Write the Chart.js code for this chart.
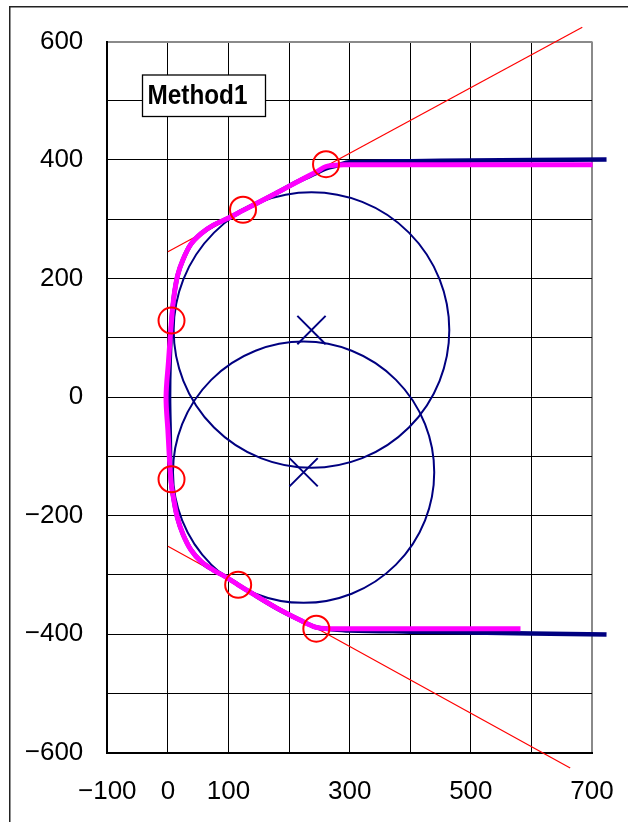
<!DOCTYPE html>
<html>
<head>
<meta charset="utf-8">
<title>Method1</title>
<script src="https://cdn.jsdelivr.net/npm/chart.js@4.4.1/dist/chart.umd.min.js"></script>
<style>
  html, body { margin: 0; padding: 0; background: #fff; }
  canvas { display: block; }
</style>
</head>
<body>
<canvas id="chart" width="628" height="822"></canvas>
<script>
// Tick labels shown on each axis (grid lines every 100)
const xTickLabels = [-100, 0, 100, 300, 500, 700];
const yTickLabels = [600, 400, 200, 0, -200, -400, -600];

// Planned path (magenta)
const pathX = [701, 600, 500, 400, 320, 290, 275, 261, 245, 217, 173, 124, 100, 75, 55, 38, 25, 16, 10, 6, 1, -3, 0, 5, 10, 16, 25, 38, 55, 75, 96, 116, 135, 179, 217, 245, 262, 300, 400, 500, 582];
const pathY = [392, 392, 392, 392, 392, 392, 391, 389, 380, 365, 341, 315, 302, 290, 276, 258, 232, 205, 170, 129, 60, 0, -56, -140, -175, -205, -232, -258, -278, -292, -304, -317, -329, -356, -376, -389, -391, -391, -391, -391, -391];

// Reference boundary (navy)
const refX = [724, 600, 500, 400, 300, 280, 261, 245, 217, 173, 124, 100, 75, 55, 38, 25, 16, 10, 6, 3, 2, 3, 5, 10, 16, 25, 38, 55, 75, 96, 116, 135, 179, 217, 245, 262, 300, 400, 500, 600, 724];
const refY = [401, 400, 399, 398, 396, 391, 386, 378, 365, 341, 315, 302, 290, 276, 258, 232, 205, 170, 129, 60, 0, -56, -140, -175, -205, -232, -258, -278, -292, -304, -317, -329, -356, -376, -389, -391, -394, -396, -397.5, -399, -401];

// Tangent lines
const upperTangentX = [0, 684];
const upperTangentY = [245, 624];
const lowerTangentX = [0, 664];
const lowerTangentY = [-252, -626];

// Contact points (red circles)
const contactX = [6, 124, 261, 6, 116, 245];
const contactY = [129, 316, 393, -139, -317, -391];

// Circles: centres (marked with ×) and radii
const centerX = [237, 224];
const centerY = [113, -127];
const circleRadius = [230, 218];

const NAVY = '#000080';
const MAGENTA = '#ff00ff';
const RED = '#ff0000';

const pts = (xs, ys) => xs.map((x, i) => ({ x: x, y: ys[i] }));
const fmt = v => (v < 0 ? '\u2212' + Math.abs(v) : String(v));

// Radius in pixels of a circle given in data units
function circlePixelRadius(c) {
  const sx = c.chart.scales.x, sy = c.chart.scales.y;
  const r = circleRadius[c.dataIndex];
  if (!sx || !sy || r === undefined) return 0;
  const rx = Math.abs(sx.getPixelForValue(r) - sx.getPixelForValue(0));
  const ry = Math.abs(sy.getPixelForValue(r) - sy.getPixelForValue(0));
  return (rx + ry) / 2;
}

// Outer frame and the "Method1" text box
const decorations = {
  id: 'decorations',
  beforeDraw(chart) {
    const ctx = chart.ctx;
    ctx.save();
    ctx.fillStyle = '#fff';
    ctx.fillRect(0, 0, chart.width, chart.height);
    ctx.strokeStyle = '#222';
    ctx.lineWidth = 1.5;
    ctx.strokeRect(9.75, 6.75, 1000, 1000);
    ctx.restore();
  },
  beforeDatasetsDraw(chart) {
    const ctx = chart.ctx;
    ctx.save();
    ctx.fillStyle = '#fff';
    ctx.fillRect(142.5, 75, 123, 41.5);
    ctx.strokeStyle = '#000';
    ctx.lineWidth = 1.3;
    ctx.strokeRect(142.5, 75, 123, 41.5);
    ctx.fillStyle = '#000';
    ctx.font = 'bold 27px "Liberation Sans", Arial, sans-serif';
    ctx.textBaseline = 'alphabetic';
    ctx.textAlign = 'left';
    ctx.fillText('Method1', 147.5, 104.3, 100);
    ctx.restore();
  }
};

const lineSet = (xs, ys, color, width, tension) => ({
  data: pts(xs, ys),
  showLine: true,
  borderColor: color,
  borderWidth: width,
  borderCapStyle: 'butt',
  borderJoinStyle: 'round',
  tension: tension,
  pointRadius: 0,
  clip: false
});

new Chart(document.getElementById('chart'), {
  type: 'scatter',
  data: {
    datasets: [
      {
        data: pts(contactX, contactY),
        showLine: false,
        pointStyle: 'circle',
        pointRadius: 13,
        pointBorderWidth: 2,
        pointBorderColor: RED,
        pointBackgroundColor: 'rgba(0,0,0,0)',
        clip: false
      },
      lineSet(pathX, pathY, MAGENTA, 5, 0.35),
      lineSet(refX, refY, NAVY, 4.5, 0.35),
      lineSet(upperTangentX, upperTangentY, RED, 1.2, 0),
      lineSet(lowerTangentX, lowerTangentY, RED, 1.2, 0),
      {
        data: pts(centerX, centerY),
        showLine: false,
        pointStyle: 'circle',
        pointRadius: circlePixelRadius,
        pointBorderWidth: 2,
        pointBorderColor: NAVY,
        pointBackgroundColor: 'rgba(0,0,0,0)',
        clip: false
      },
      {
        data: pts(centerX, centerY),
        showLine: false,
        pointStyle: 'crossRot',
        pointRadius: 20,
        pointBorderWidth: 2,
        pointBorderColor: NAVY,
        clip: false
      }
    ]
  },
  options: {
    responsive: false,
    animation: false,
    events: [],
    layout: { padding: { top: 41.5, right: 36, bottom: 0, left: 0 } },
    plugins: {
      legend: { display: false },
      tooltip: { enabled: false },
      title: { display: false }
    },
    scales: {
      x: {
        type: 'linear',
        min: -100,
        max: 700,
        afterFit: s => { s.height = 69.5; s.paddingLeft = 0; s.paddingRight = 0; },
        afterBuildTicks: s => {
          s.ticks = [];
          for (let v = -100; v <= 700; v += 100) s.ticks.push({ value: v });
        },
        ticks: {
          autoSkip: false,
          maxRotation: 0,
          padding: 24,
          color: '#000',
          font: { family: '"Liberation Sans", Arial, sans-serif', size: 26 },
          callback: v => (xTickLabels.includes(v) ? fmt(v) : '')
        },
        grid: {
          drawTicks: false,
          color: c => (c.tick && c.tick.value === 700 ? '#8a8a8a' : '#000'),
          lineWidth: c => (c.tick && c.tick.value === 700 ? 2 : 1)
        },
        border: { display: true, color: '#000', width: 2 }
      },
      y: {
        type: 'linear',
        min: -600,
        max: 600,
        afterFit: s => { s.width = 107.3; s.paddingTop = 0; s.paddingBottom = 0; },
        afterBuildTicks: s => {
          s.ticks = [];
          for (let v = -600; v <= 600; v += 100) s.ticks.push({ value: v });
        },
        ticks: {
          autoSkip: false,
          padding: 24,
          color: '#000',
          font: { family: '"Liberation Sans", Arial, sans-serif', size: 26 },
          callback: v => (yTickLabels.includes(v) ? fmt(v) : '')
        },
        grid: {
          drawTicks: false,
          color: c => (c.tick && c.tick.value === 600 ? '#8a8a8a' : '#000'),
          lineWidth: c => (c.tick && c.tick.value === 600 ? 2 : 1)
        },
        border: { display: true, color: '#000', width: 2 }
      }
    }
  },
  plugins: [decorations]
});
</script>
</body>
</html>
